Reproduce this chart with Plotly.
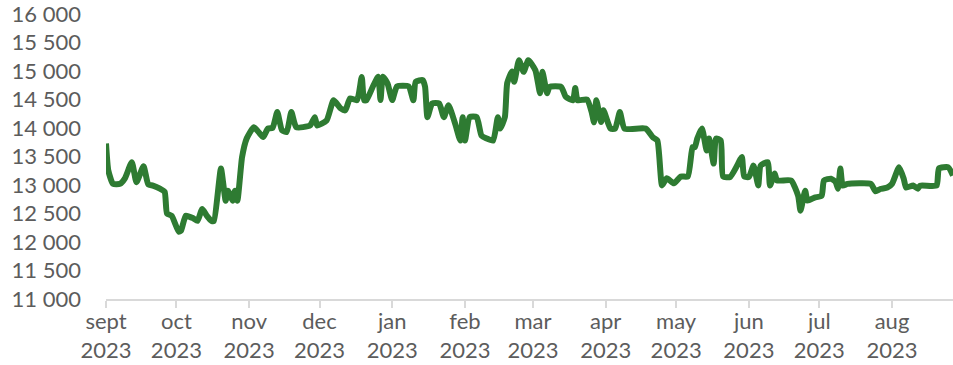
import plotly.graph_objects as go

dates = [
    "2023-09-01", "2023-09-02", "2023-09-04", "2023-09-07", "2023-09-09", "2023-09-12", "2023-09-14",
    "2023-09-17", "2023-09-19", "2023-09-21", "2023-09-24", "2023-09-26", "2023-09-27", "2023-09-29",
    "2023-10-02", "2023-10-03", "2023-10-05", "2023-10-08", "2023-10-10", "2023-10-12", "2023-10-14",
    "2023-10-16", "2023-10-17", "2023-10-20", "2023-10-22", "2023-10-23", "2023-10-25", "2023-10-26",
    "2023-10-27", "2023-10-29", "2023-10-31",
    "2023-11-03", "2023-11-05", "2023-11-07", "2023-11-09", "2023-11-11", "2023-11-13", "2023-11-15",
    "2023-11-17", "2023-11-19", "2023-11-21", "2023-11-24", "2023-11-27", "2023-11-29", "2023-11-30",
    "2023-12-04", "2023-12-07", "2023-12-10", "2023-12-12", "2023-12-14", "2023-12-17", "2023-12-19",
    "2023-12-20", "2023-12-21", "2023-12-24", "2023-12-26", "2023-12-27", "2023-12-28", "2023-12-30",
    "2024-01-01", "2024-01-03", "2024-01-08", "2024-01-10", "2024-01-11", "2024-01-14", "2024-01-15",
    "2024-01-16", "2024-01-18", "2024-01-21", "2024-01-23", "2024-01-25", "2024-01-28", "2024-01-30",
    "2024-01-31", "2024-02-01", "2024-02-03", "2024-02-06", "2024-02-08", "2024-02-10", "2024-02-13",
    "2024-02-15", "2024-02-16", "2024-02-18", "2024-02-19", "2024-02-21", "2024-02-22", "2024-02-24",
    "2024-02-26", "2024-02-28",
    "2024-03-02", "2024-03-04", "2024-03-05", "2024-03-07", "2024-03-08", "2024-03-13", "2024-03-15",
    "2024-03-18", "2024-03-19", "2024-03-20", "2024-03-24", "2024-03-26", "2024-03-27", "2024-03-28",
    "2024-03-30", "2024-03-31",
    "2024-04-03", "2024-04-05", "2024-04-07", "2024-04-09", "2024-04-18", "2024-04-21", "2024-04-23",
    "2024-04-25", "2024-04-27", "2024-04-30",
    "2024-05-03", "2024-05-06", "2024-05-08", "2024-05-09", "2024-05-10", "2024-05-12", "2024-05-14",
    "2024-05-15", "2024-05-17", "2024-05-18", "2024-05-20", "2024-05-21", "2024-05-24", "2024-05-27",
    "2024-05-29", "2024-05-30",
    "2024-06-01", "2024-06-03", "2024-06-05", "2024-06-06", "2024-06-09", "2024-06-10", "2024-06-12",
    "2024-06-13", "2024-06-19", "2024-06-22", "2024-06-23", "2024-06-25", "2024-06-26", "2024-06-29",
    "2024-07-02", "2024-07-03", "2024-07-06", "2024-07-08", "2024-07-09", "2024-07-10", "2024-07-11",
    "2024-07-13", "2024-07-23", "2024-07-25", "2024-07-27", "2024-07-30",
    "2024-08-01", "2024-08-04", "2024-08-06", "2024-08-07", "2024-08-10", "2024-08-12", "2024-08-13",
    "2024-08-20", "2024-08-21", "2024-08-25", "2024-08-27",
]

values = [
    13730, 13250, 13020, 13020, 13110, 13400, 13050,
    13330, 13010, 12990, 12935, 12880, 12500, 12460,
    12180, 12200, 12460, 12420, 12370, 12580, 12460,
    12370, 12370, 13290, 12725, 12900, 12725, 12900,
    12725, 13490, 13820,
    14015, 13930, 13840, 13990, 14000, 14280, 13960,
    13930, 14280, 14015, 14015, 14045, 14190, 14045,
    14130, 14486, 14345, 14310, 14520, 14486, 14896,
    14486, 14486, 14750, 14900, 14490, 14900, 14780,
    14490, 14730, 14730, 14486, 14810, 14840, 14720,
    14190, 14430, 14430, 14190, 14400, 14050, 13780,
    14190, 13780, 14190, 14190, 13870, 13820, 13780,
    14190, 13990, 14190, 14790, 14990, 14810, 15190,
    14985, 15190,
    15014, 14610, 14985, 14610, 14720, 14720, 14544,
    14486, 14700, 14486, 14500, 14280, 14100, 14486,
    14104, 14310,
    13990, 13990, 14280, 13990, 13990, 13840, 13780,
    12993, 13120, 13030,
    13150, 13150, 13665, 13665, 13816, 13993, 13605,
    13816, 13377, 13816, 13780, 13150, 13140, 13340,
    13490, 13150,
    13140, 13340, 12993, 13340, 13400, 12990, 13200,
    13080, 13080, 12810, 12550, 12900, 12725, 12780,
    12810, 13080, 13110, 13050, 12935, 13290, 12990,
    13020, 13020, 12890, 12930, 12955,
    13020, 13310, 13110, 12955, 12990, 12935, 12990,
    12990, 13290, 13310, 13165,
]

month_ticks = [
    "2023-09-01", "2023-10-01", "2023-11-01", "2023-12-01", "2024-01-01", "2024-02-01",
    "2024-03-01", "2024-04-01", "2024-05-01", "2024-06-01", "2024-07-01", "2024-08-01",
]
month_labels = [
    "sept<br>2023", "oct<br>2023", "nov<br>2023", "dec<br>2023", "jan<br>2023", "feb<br>2023",
    "mar<br>2023", "apr<br>2023", "may<br>2023", "jun<br>2023", "jul<br>2023", "aug<br>2023",
]
y_ticks = [11000, 11500, 12000, 12500, 13000, 13500, 14000, 14500, 15000, 15500, 16000]

fig = go.Figure()
fig.add_trace(go.Scatter(
    x=dates, y=values, mode="lines",
    line=dict(color="#2e7b32", width=6, shape="spline", smoothing=0.5),
    hoverinfo="skip", showlegend=False,
))

fig.update_layout(
    width=953, height=365,
    margin=dict(l=106, r=0, t=14, b=66),
    paper_bgcolor="white", plot_bgcolor="white",
    separators=". ",
    font=dict(family="Lato, 'Open Sans', sans-serif", size=22, color="#5c5c5c"),
    xaxis=dict(
        type="date",
        range=["2023-09-01", "2024-08-27"],
        tickvals=month_ticks, ticktext=month_labels,
        showgrid=False, zeroline=False, automargin=False,
        showline=True, linecolor="#d9d9d9", linewidth=2,
        ticks="outside", ticklen=7, tickwidth=2, tickcolor="#d9d9d9",
        ticklabelstandoff=-5,
        tickfont=dict(size=22, color="#5c5c5c"),
    ),
    yaxis=dict(
        range=[11000, 16000],
        tickvals=y_ticks, tickformat=",d",
        showgrid=False, zeroline=False, showline=False, automargin=False,
        ticks="", ticklabelstandoff=24, ticklabeloverflow="allow",
        tickfont=dict(size=22, color="#5c5c5c"),
    ),
)

fig.write_html(
    "out.html",
    config={"displayModeBar": False, "staticPlot": True},
    post_script="document.body.style.margin='0';document.body.style.overflow='hidden';",
)
